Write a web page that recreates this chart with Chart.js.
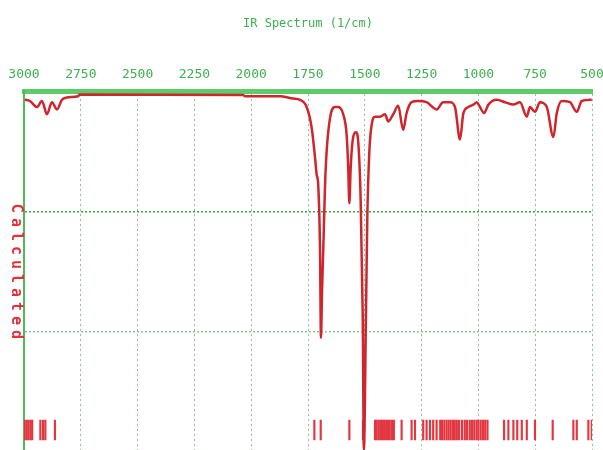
<!DOCTYPE html>
<html>
<head>
<meta charset="utf-8">
<script src="https://cdn.jsdelivr.net/npm/chart.js@4"></script>
<style>
  html, body { margin: 0; padding: 0; background: #fff; overflow: hidden; }
  #wrap { width: 603px; height: 460px; }
</style>
</head>
<body>
<div id="wrap"><canvas id="ir-chart" width="603" height="460"></canvas></div>
<script>
// ======================= data =======================
var wavenumbers = [2996, 2974, 2943, 2921, 2899, 2877, 2855, 2833, 2811, 2762, 2754, 2036, 2027, 1873,
  1816, 1785, 1756, 1734, 1719, 1712, 1705, 1697, 1693, 1688, 1683, 1675, 1668, 1653, 1631, 1617,
  1595, 1580, 1573, 1568, 1562, 1551, 1539, 1529, 1518, 1509, 1504, 1495, 1489, 1480, 1470, 1455,
  1433, 1411, 1397, 1375, 1353, 1331, 1316, 1294, 1265, 1228, 1184, 1155, 1125, 1103, 1081, 1066,
  1044, 1022, 1007, 993, 975, 956, 919, 883, 846, 817, 787, 773, 751, 729, 699, 670, 655, 633,
  597, 567, 545, 501];
var intensity = [29.3, 29.2, 28.7, 29.2, 28.1, 29.1, 28.5, 29.3, 29.5, 29.6, 29.75, 29.7, 29.6, 29.6,
  29.4, 29.3, 28.7, 27.0, 24.5, 23.1, 22.2, 16.7, 9.5, 13.5, 16.7, 22.2, 25.0, 27.8, 28.7, 28.7,
  28.1, 26.4, 23.7, 20.7, 23.7, 26.2, 26.6, 25.8, 20.8, 11.2, 0.2, 11.2, 19.5, 25.0, 27.2, 27.9,
  27.9, 28.1, 27.5, 28.1, 28.8, 26.8, 28.2, 29.1, 29.2, 29.1, 28.5, 29.1, 29.1, 28.7, 26.0, 28.2,
  28.7, 28.9, 29.1, 28.7, 28.2, 28.9, 29.3, 29.1, 28.9, 29.1, 27.9, 28.7, 28.3, 29.1, 28.7, 26.2, 28.2, 29.2,
  29.1, 28.3, 29.2, 29.3];

// calculated stick positions (bottom marks)
var sticks = [2997, 2989, 2981, 2972, 2964, 2928, 2916, 2906, 2864,
  1722, 1694, 1568, 1508,
  1455, 1448, 1440, 1432, 1424, 1415, 1406, 1398, 1390, 1380, 1372,
  1338, 1294, 1279, 1243, 1228, 1213, 1199, 1184,
  1168, 1160, 1150, 1140, 1131, 1122, 1112, 1104,
  1095, 1085, 1072, 1060, 1050, 1038, 1028, 1018, 1008,
  1000, 990, 980, 970, 960,
  887, 868, 846, 829, 809, 787, 751, 673, 582, 567, 516, 501];
var stickRange = [1.0, 2.65];

var xTicks = [3000, 2750, 2500, 2250, 2000, 1750, 1500, 1250, 1000, 750, 500];
var yTicks = [0, 10, 20, 30];

// ============================ build datasets ==============================
var spectrum = [];
for (var i = 0; i < wavenumbers.length; i++) {
  spectrum.push({ x: wavenumbers[i], y: intensity[i] });
}
var stickData = [];
for (var j = 0; j < sticks.length; j++) {
  stickData.push({ x: sticks[j], y: stickRange });
}

var green = 'rgb(62,176,78)';

// "Calculated" label drawn down the left side
var sideLabel = {
  id: 'sideLabel',
  afterDraw: function(chart) {
    var ctx = chart.ctx;
    ctx.save();
    ctx.translate(16, 274);
    ctx.rotate(Math.PI / 2);
    ctx.font = 'bold 15px "DejaVu Sans Mono"';
    ctx.letterSpacing = '5px';
    ctx.fillStyle = 'rgb(222,52,62)';
    ctx.textAlign = 'center';
    ctx.textBaseline = 'middle';
    ctx.fillText('Calculated', 0, 0);
    ctx.restore();
  }
};

new Chart(document.getElementById('ir-chart'), {
  type: 'line',
  data: {
    datasets: [{
      type: 'line',
      label: 'Spectrum',
      data: spectrum,
      borderColor: 'rgb(206,38,44)',
      borderWidth: 2.5,
      pointRadius: 0,
      fill: false,
      cubicInterpolationMode: 'monotone',
      order: 1
    }, {
      type: 'bar',
      label: 'Calculated',
      data: stickData,
      backgroundColor: 'rgb(226,54,64)',
      borderWidth: 0,
      barThickness: 1.5,
      grouped: false,
      order: 2
    }]
  },
  plugins: [sideLabel],
  options: {
    responsive: false,
    animation: false,
    layout: { padding: { left: 24, right: 11, bottom: 8, top: 0 } },
    plugins: {
      legend: { display: false },
      tooltip: { enabled: false },
      title: {
        display: true,
        text: 'IR Spectrum (1/cm)',
        color: green,
        font: { family: 'DejaVu Sans Mono', size: 12, weight: 'normal' },
        padding: { top: 17, bottom: 0 }
      }
    },
    scales: {
      x: {
        type: 'linear',
        position: 'top',
        reverse: true,
        offset: false,
        min: 500,
        max: 3000,
        afterBuildTicks: function(scale) {
          scale.ticks = xTicks.map(function(v) { return { value: v }; });
        },
        afterFit: function(scale) {
          scale.height = 60;
          scale.paddingLeft = 0;
          scale.paddingRight = 0;
        },
        ticks: {
          color: green,
          font: { family: 'DejaVu Sans Mono', size: 13 },
          padding: 9,
          maxRotation: 0,
          autoSkip: false,
          callback: function(value) { return String(value); }
        },
        grid: {
          offset: false,
          drawTicks: false,
          color: 'rgba(120,175,125,0.8)',
          lineWidth: 1
        },
        border: { display: true, color: 'rgb(92,204,104)', width: 5, dash: [2, 3] }
      },
      y: {
        min: 0,
        max: 30,
        afterBuildTicks: function(scale) {
          scale.ticks = yTicks.map(function(v) { return { value: v }; });
        },
        ticks: { display: false },
        grid: {
          drawTicks: false,
          lineWidth: 1.5,
          color: function(ctx) {
            return ctx.tick && ctx.tick.value === 20 ? 'rgb(60,165,60)' : 'rgba(120,190,130,0.85)';
          }
        },
        border: { display: true, color: 'rgb(80,185,90)', width: 2, dash: [2, 2] }
      }
    }
  }
});
</script>
</body>
</html>
